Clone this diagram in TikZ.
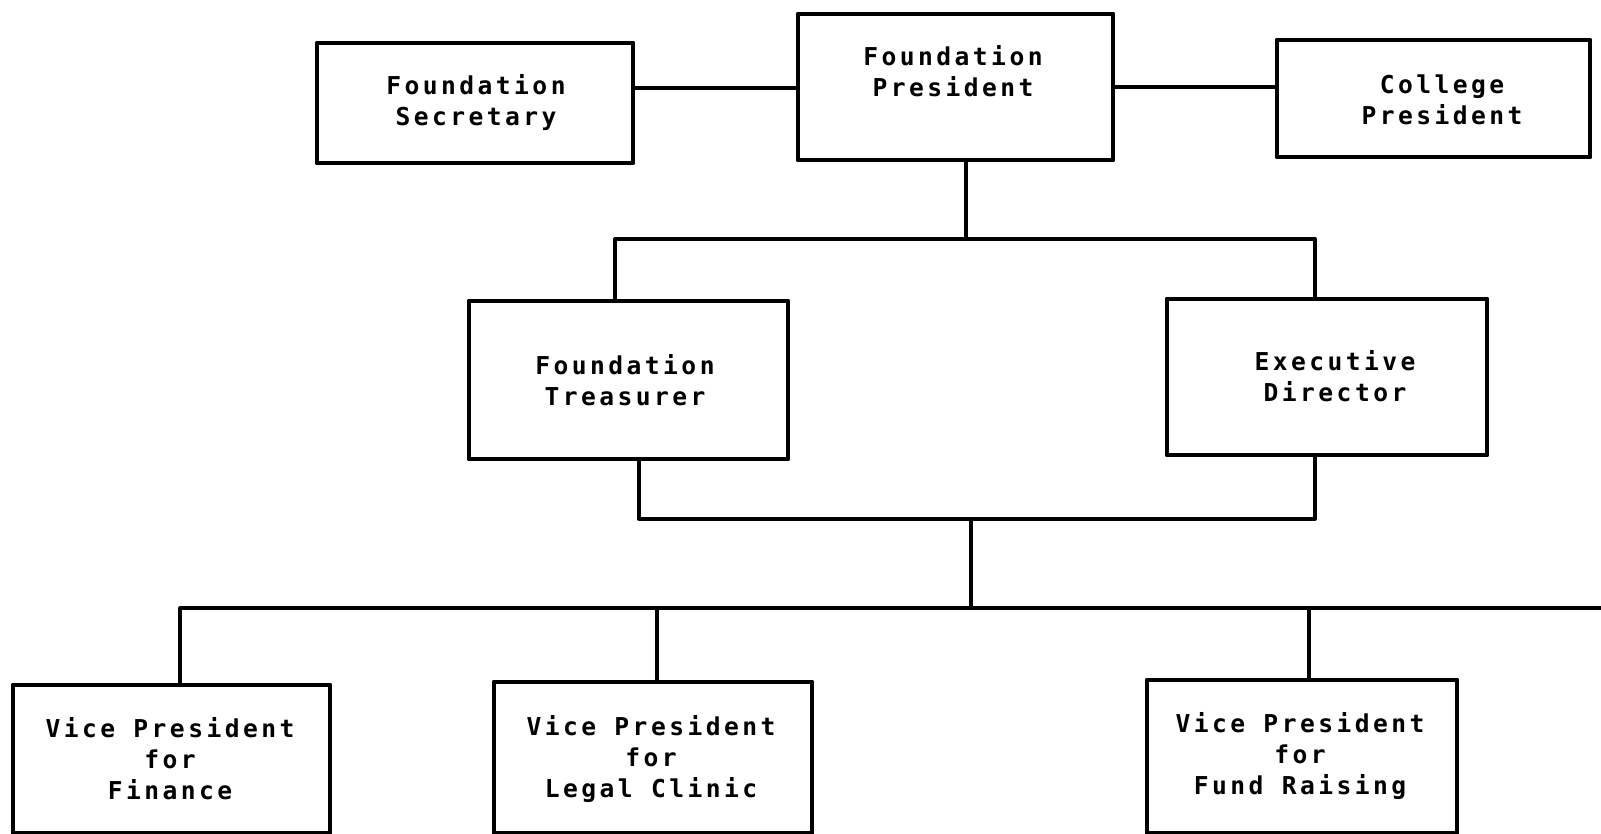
\documentclass[tikz,border=0pt]{standalone}
\usepackage{fontspec}
\newfontfamily\typefont[LetterSpace=14]{DejaVu Sans Mono}
\begin{document}
\begin{tikzpicture}[x=0.01cm,y=-0.01cm,
  orgbox/.style={draw=black,line width=1.35pt,rectangle,inner sep=0pt,outer sep=0pt,line join=round},
  orgtext/.style={align=center,inner sep=0pt,font=\typefont\bfseries\fontsize{7}{8.8}\selectfont},
  link/.style={draw=black,line width=1.15pt,line join=round}]
\useasboundingbox (0,0) rectangle (1601,833);
% boxes
\node[orgbox,minimum width=3.16cm,minimum height=1.20cm] (sec) at (475,103) {};
\node[orgbox,minimum width=3.15cm,minimum height=1.46cm] (pres) at (955.5,87) {};
\node[orgbox,minimum width=3.13cm,minimum height=1.17cm] (col) at (1433.5,98.5) {};
\node[orgbox,minimum width=3.19cm,minimum height=1.58cm] (tre) at (628.5,380) {};
\node[orgbox,minimum width=3.20cm,minimum height=1.56cm] (exe) at (1327,377) {};
\node[orgbox,minimum width=3.17cm,minimum height=1.48cm] (vpf) at (171.5,759) {};
\node[orgbox,minimum width=3.18cm,minimum height=1.51cm] (vpl) at (653,757.5) {};
\node[orgbox,minimum width=3.10cm,minimum height=1.53cm] (vpr) at (1302,756.5) {};
% labels
\node[orgtext] (secT) at (476,103) {Foundation\\Secretary};
\node[orgtext] (presT) at (953,71) {Foundation\\President};
\node[orgtext] (colT) at (1442,100) {College\\President};
\node[orgtext] (treT) at (625,380) {Foundation\\Treasurer};
\node[orgtext] (exeT) at (1335,376) {Executive\\Director};
\node[orgtext] (vpfT) at (170,759) {Vice President\\for\\Finance};
\node[orgtext] (vplT) at (651,759) {Vice President\\for\\Legal Clinic};
\node[orgtext] (vprT) at (1300,756) {Vice President\\for\\Fund Raising};
% junction points
\coordinate (h1) at (700,88);
\coordinate (j1) at (966,239);
\coordinate (b1L) at (615,239);
\coordinate (b1R) at (1315,239);
\coordinate (b2L) at (639,519);
\coordinate (b2R) at (1315,519);
\coordinate (j2) at (971,519);
\coordinate (j3) at (971,608);
\coordinate (b3L) at (180,608);
\coordinate (b3M) at (657,608);
\coordinate (b3N) at (1309,608);
\coordinate (b3R) at (1601,608);
% connectors
\draw[link] (sec.east |- h1) -- (pres.west |- h1);
\draw[link] (pres.east) -- (pres.east -| col.west);
\draw[link] (pres.south -| j1) -- (j1);
\draw[link] (tre.north -| b1L) -- (b1L) -- (b1R) -- (exe.north -| b1R);
\draw[link] (tre.south -| b2L) -- (b2L) -- (b2R) -- (exe.south -| b2R);
\draw[link] (j2) -- (j3);
\draw[link] (vpf.north -| b3L) -- (b3L) -- (b3R);
\draw[link] (b3M) -- (vpl.north -| b3M);
\draw[link] (b3N) -- (vpr.north -| b3N);
\end{tikzpicture}
\end{document}
